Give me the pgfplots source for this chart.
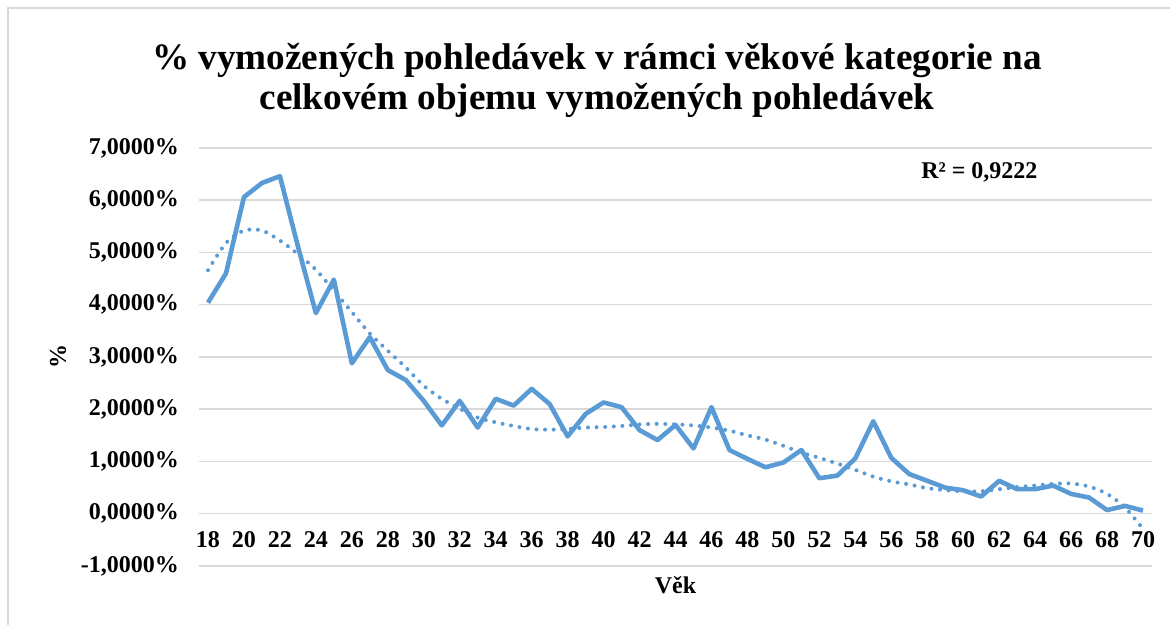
\documentclass[border=0pt]{standalone}
\usepackage{pgfplots}
\pgfplotsset{compat=1.18}
\usepackage{fontspec}
\setmainfont{Liberation Serif}
\definecolor{exblue}{HTML}{5B9BD5}
\definecolor{gridgray}{HTML}{D9D9D9}
\begin{document}
\begin{tikzpicture}
\path[use as bounding box] (-99.5pt,-29.5pt) rectangle (485.5pt,283pt);
\begin{axis}[
  scale only axis,
  width=476.5pt, height=209pt,
  xmin=17.5, xmax=70.5, ymin=-1, ymax=7,
  axis x line=middle, axis y line=left,
  axis line style={draw=none},
  major tick length=0pt,
  xtick={18,20,...,70},
  ytick={-1,0,...,7},
  yticklabels={{-1,0000\%},{0,0000\%},{1,0000\%},{2,0000\%},{3,0000\%},{4,0000\%},{5,0000\%},{6,0000\%},{7,0000\%}},
  ymajorgrids,
  grid style={gridgray, line width=0.75pt},
  tick label style={font=\fontsize{12}{14}\selectfont\bfseries},
  xticklabel style={yshift=-5.2pt},
  yticklabel style={xshift=-6.5pt},
  xticklabel={\pgfmathprintnumber[assume math mode=true]{\tick}},
  title={\% vymožených pohledávek v rámci věkové kategorie na\\celkovém objemu vymožených pohledávek},
  title style={at={(axis description cs:0.4176,1.134)}, anchor=center, align=center, font=\fontsize{18.6}{20}\selectfont\bfseries},
  xlabel={Věk},
  xlabel style={at={(axis description cs:0.5,-0.046)}, anchor=center, font=\fontsize{12}{14}\selectfont\bfseries},
  ylabel={\%},
  ylabel style={at={(axis description cs:-0.148,0.5)}, anchor=center, rotate=0, font=\fontsize{12}{14}\selectfont\bfseries},
  clip=false,
]
\addplot[exblue, line width=2.3pt, line join=round] coordinates {
(18,4.04)(19,4.60)(20,6.06)(21,6.33)(22,6.46)(23,5.12)(24,3.84)(25,4.48)(26,2.88)(27,3.38)
(28,2.75)(29,2.56)(30,2.16)(31,1.69)(32,2.16)(33,1.65)(34,2.20)(35,2.07)(36,2.39)(37,2.10)
(38,1.48)(39,1.91)(40,2.13)(41,2.04)(42,1.60)(43,1.41)(44,1.70)(45,1.25)(46,2.04)(47,1.22)
(48,1.05)(49,0.89)(50,0.98)(51,1.22)(52,0.68)(53,0.73)(54,1.06)(55,1.77)(56,1.07)(57,0.76)
(58,0.63)(59,0.50)(60,0.45)(61,0.33)(62,0.63)(63,0.47)(64,0.47)(65,0.54)(66,0.38)(67,0.31)
(68,0.07)(69,0.15)(70,0.06)
};
\addplot[exblue, line width=2pt, line cap=round, dash pattern=on 0pt off 4.3pt, smooth] coordinates {
(18,4.66)(19,5.18)(20,5.42)(21,5.42)(22,5.23)(23,4.97)(24,4.67)(25,4.27)(26,3.86)(27,3.45)
(28,3.12)(29,2.80)(30,2.45)(31,2.20)(32,2.01)(33,1.84)(34,1.75)(35,1.68)(36,1.62)(37,1.61)
(38,1.62)(39,1.65)(40,1.66)(41,1.68)(42,1.71)(43,1.72)(44,1.71)(45,1.69)(46,1.65)(47,1.59)
(48,1.50)(49,1.42)(50,1.30)(51,1.17)(52,1.07)(53,0.96)(54,0.84)(55,0.71)(56,0.62)(57,0.56)
(58,0.49)(59,0.45)(60,0.43)(61,0.43)(62,0.47)(63,0.51)(64,0.54)(65,0.57)(66,0.58)(67,0.52)
(68,0.38)(69,0.12)(70,-0.29)
};
\node[font=\fontsize{12}{14}\selectfont\bfseries] at (axis cs:60.9,6.53) {R² = 0,9222};
\end{axis}
\draw[gridgray, line width=1pt] (-95.5pt,-29.5pt) -- (-95.5pt,279pt) -- (485.5pt,279pt);
\end{tikzpicture}
\end{document}
